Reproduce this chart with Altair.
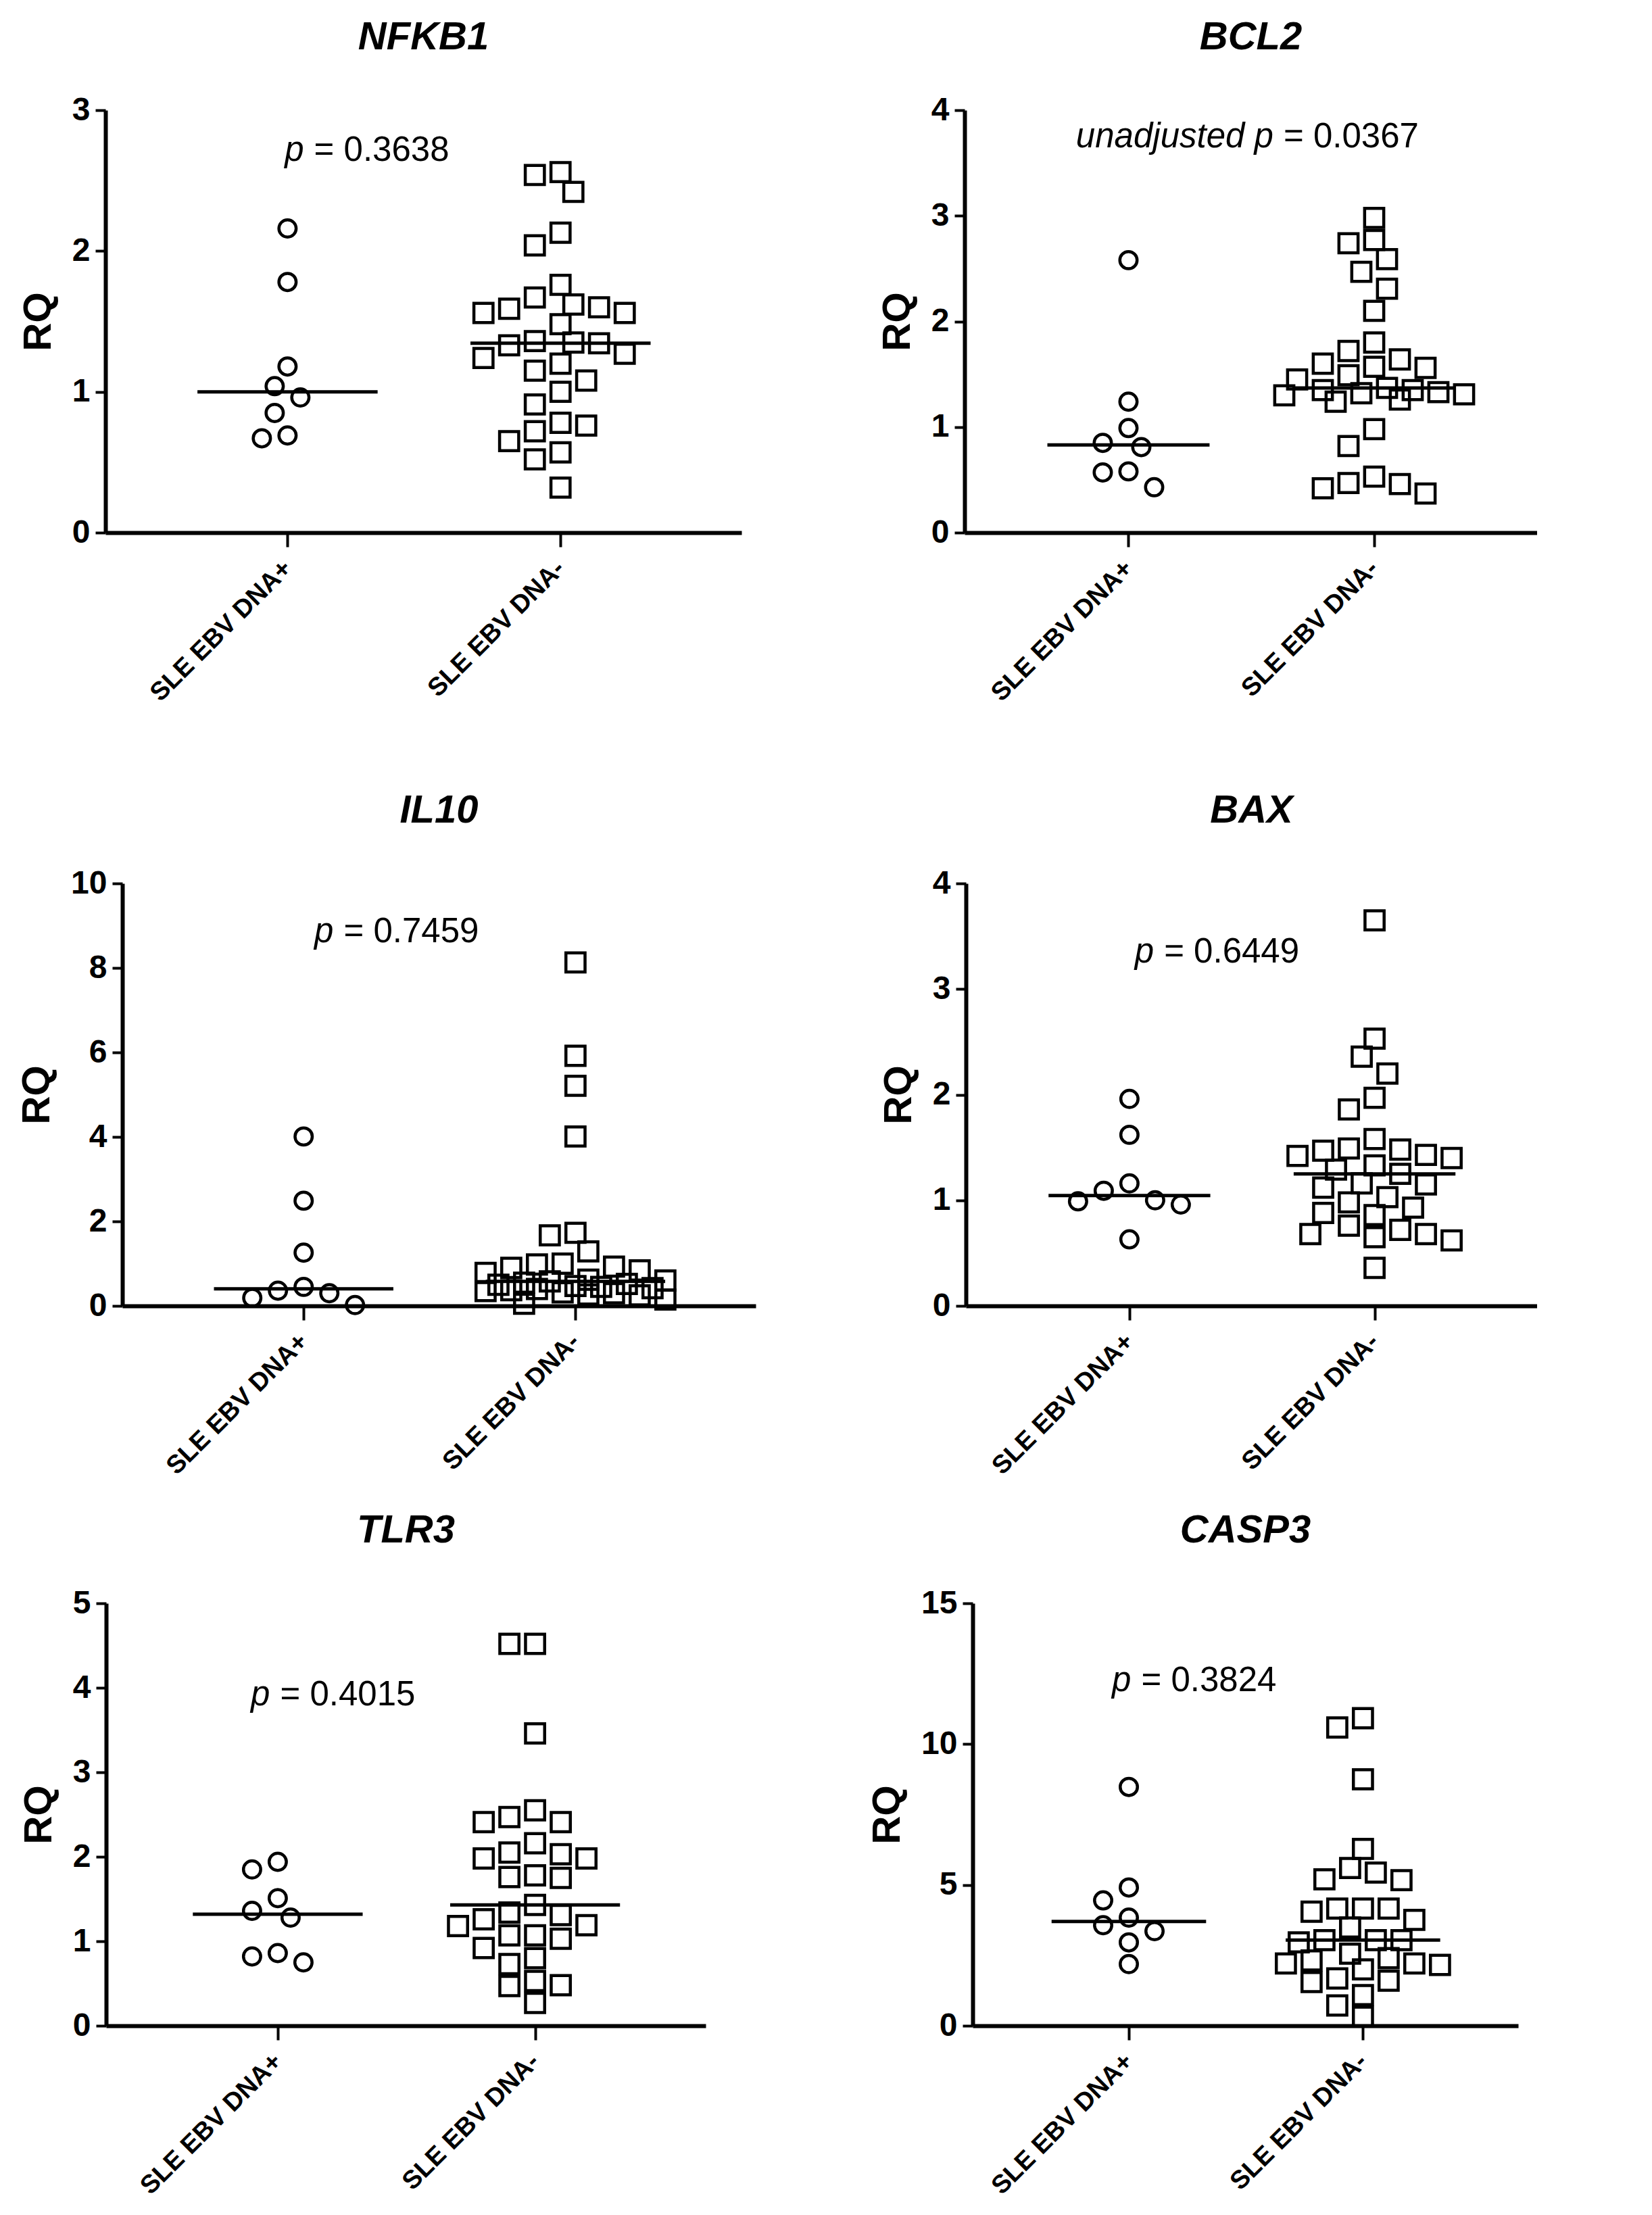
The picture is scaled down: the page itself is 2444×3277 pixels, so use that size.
import math

import altair as alt
import pandas as pd

FONT = "Liberation Sans"

# ---------------------------------------------------------------------------
# Data (RQ values)
# ---------------------------------------------------------------------------
groups = ["SLE EBV DNA+", "SLE EBV DNA-"]
genes = ["NFKB1", "BCL2", "IL10", "BAX", "TLR3", "CASP3"]

nfkb1_pos = [2.16, 1.78, 1.18, 1.04, 0.96, 0.85, 0.69, 0.67]
nfkb1_neg = [2.56, 2.54, 2.42, 2.13, 2.04, 1.76, 1.67, 1.62, 1.60, 1.59, 1.56,
             1.56, 1.48, 1.36, 1.35, 1.345, 1.33, 1.27, 1.24, 1.20, 1.15, 1.08,
             1.00, 0.91, 0.78, 0.76, 0.72, 0.65, 0.57, 0.52, 0.32]

bcl2_pos = [2.58, 1.24, 0.99, 0.85, 0.81, 0.58, 0.57, 0.43]
bcl2_neg = [2.98, 2.77, 2.74, 2.59, 2.47, 2.31, 2.10, 1.80, 1.72, 1.64, 1.60,
            1.57, 1.56, 1.49, 1.45, 1.37, 1.35, 1.35, 1.33, 1.32, 1.31, 1.30,
            1.26, 1.24, 0.98, 0.82, 0.53, 0.47, 0.46, 0.42, 0.37]

il10_pos = [4.01, 2.49, 1.26, 0.45, 0.36, 0.30, 0.19, 0.02]
il10_neg = [8.13, 5.92, 5.21, 4.01, 1.73, 1.67, 1.29, 1.00, 0.98, 0.93, 0.90,
            0.84, 0.78, 0.62, 0.60, 0.58, 0.55, 0.52, 0.50, 0.47, 0.45, 0.42,
            0.40, 0.37, 0.35, 0.32, 0.30, 0.27, 0.25, 0.15, 0.05]

bax_pos = [1.96, 1.62, 1.16, 1.09, 1.00, 0.99, 0.96, 0.63]
bax_neg = [3.65, 2.53, 2.36, 2.20, 1.97, 1.86, 1.58, 1.49, 1.48, 1.47, 1.43,
           1.42, 1.40, 1.33, 1.29, 1.25, 1.16, 1.15, 1.12, 1.03, 0.98, 0.93,
           0.88, 0.86, 0.76, 0.72, 0.68, 0.68, 0.65, 0.62, 0.36]

tlr3_pos = [1.94, 1.85, 1.51, 1.36, 1.28, 0.86, 0.82, 0.75]
tlr3_neg = [4.52, 4.52, 3.46, 2.55, 2.47, 2.41, 2.41, 2.16, 2.05, 2.03, 1.98,
            1.98, 1.78, 1.76, 1.75, 1.43, 1.34, 1.31, 1.26, 1.19, 1.18, 1.07,
            1.07, 1.03, 0.92, 0.80, 0.73, 0.53, 0.48, 0.47, 0.27]

casp3_pos = [8.48, 4.91, 4.45, 3.84, 3.57, 3.36, 2.96, 2.19]
casp3_neg = [10.92, 10.59, 8.75, 6.28, 5.60, 5.44, 5.20, 5.17, 4.16, 4.16, 4.16,
             4.05, 3.76, 3.49, 3.04, 3.04, 3.04, 2.96, 2.56, 2.40, 2.32, 2.21,
             2.21, 2.16, 2.00, 1.68, 1.60, 1.55, 1.09, 0.72, 0.32]

pos_values = [nfkb1_pos, bcl2_pos, il10_pos, bax_pos, tlr3_pos, casp3_pos]
neg_values = [nfkb1_neg, bcl2_neg, il10_neg, bax_neg, tlr3_neg, casp3_neg]

y_max = [3, 4, 10, 4, 5, 15]
y_step = [1, 1, 2, 1, 1, 5]

p_prefix = ["p", "unadjusted p", "p", "p", "p", "p"]
p_text = ["= 0.3638", "= 0.0367", "= 0.7459", "= 0.6449", "= 0.4015", "= 0.3824"]
p_x = [1.06, 1.59, 1.11, 1.10, 0.97, 1.01]
p_y = [2.64, 3.65, 8.61, 3.25, 3.79, 11.87]

# ---------------------------------------------------------------------------
# Layout
# ---------------------------------------------------------------------------
X_DOMAIN = [0.333, 2.663]
PLOT_H = 625
panel_w = [941, 847, 937, 845, 887, 807]
left_pad = [148, 173, 149]
mid_pad = [330, 311, 395]
top_pad = 155
row_gap = [519, 440]

SYMBOL_D = 32      # outer symbol size in px, used for the swarm layout
SWARM_STEP = 19    # horizontal step between swarm lanes in px
MAX_LANE = 7
MEDIAN_HALF = 0.33


def swarm(values, center, xpx, ypx):
    """Greedy beeswarm: put each point in the lane nearest the centre that
    does not collide with the points already placed."""
    placed = []
    xs = []
    lanes = [0] + [s * k for k in range(1, MAX_LANE + 1) for s in (-1, 1)]
    for v in values:
        y = v * ypx
        best_lane, best_d = 0, -1.0
        for k in lanes:
            x = k * SWARM_STEP
            d = min((math.hypot(x - px, y - py) for px, py in placed), default=1e9)
            if d >= SYMBOL_D:
                best_lane = k
                break
            if d > best_d:
                best_d, best_lane = d, k
        placed.append((best_lane * SWARM_STEP, y))
        xs.append(center + best_lane * SWARM_STEP / xpx)
    return xs


label_expr = f"datum.value == 1 ? '{groups[0]}' : '{groups[1]}'"


def x_enc():
    return alt.X("x:Q",
                 scale=alt.Scale(domain=X_DOMAIN, nice=False, zero=False),
                 axis=alt.Axis(values=[1, 2], labelExpr=label_expr, title=None,
                               labelAngle=-45, labelAlign="right",
                               labelBaseline="middle", labelFontSize=38,
                               labelPadding=26, tickSize=21, labelLimit=0,
                               labelOverlap=False, labelFlush=False,
                               labelBound=False))


def y_enc(i):
    return alt.Y("rq:Q",
                 scale=alt.Scale(domain=[0, y_max[i]], nice=False, zero=True),
                 axis=alt.Axis(values=list(range(0, y_max[i] + 1, y_step[i])),
                               title="RQ", titleFontSize=58, titlePadding=20,
                               labelFontSize=48, labelPadding=8, tickSize=15))


def panel(i):
    w = panel_w[i]
    xpx = w / (X_DOMAIN[1] - X_DOMAIN[0])
    ypx = PLOT_H / y_max[i]

    rows = []
    for g, vals in ((1, pos_values[i]), (2, neg_values[i])):
        for v, x in zip(vals, swarm(vals, g, xpx, ypx)):
            rows.append({"group": g, "x": x, "rq": v})
    df = pd.DataFrame(rows)

    med = df.groupby("group")["rq"].median().reset_index()
    med["x"] = med["group"] - MEDIAN_HALF
    med["x_end"] = med["group"] + MEDIAN_HALF

    circles = alt.Chart(df).transform_filter("datum.group == 1").mark_point(
        shape="circle", filled=False, size=650, strokeWidth=4.5,
        color="black", opacity=1
    ).encode(x=x_enc(), y=y_enc(i))

    squares = alt.Chart(df).transform_filter("datum.group == 2").mark_point(
        shape="square", filled=False, size=800, strokeWidth=4.5,
        color="black", opacity=1
    ).encode(x=x_enc(), y=y_enc(i))

    medians = alt.Chart(med).mark_rule(strokeWidth=5, color="black").encode(
        x=x_enc(), x2="x_end:Q", y=y_enc(i)
    )

    p_df = pd.DataFrame({"x": [p_x[i]], "rq": [p_y[i]]})
    p_italic = alt.Chart(p_df).mark_text(
        text=p_prefix[i], align="right", baseline="alphabetic",
        fontStyle="italic", fontSize=51, font=FONT, color="black"
    ).encode(x=x_enc(), y=y_enc(i))
    p_rest = alt.Chart(p_df).mark_text(
        text=p_text[i], align="left", baseline="alphabetic", dx=15,
        fontSize=51, font=FONT, color="black"
    ).encode(x=x_enc(), y=y_enc(i))

    return alt.layer(medians, circles, squares, p_italic, p_rest).properties(
        width=w,
        height=PLOT_H,
        title=alt.TitleParams(text=genes[i], font=FONT, fontSize=58,
                              fontWeight="bold", fontStyle="italic",
                              color="black", anchor="middle", frame="group",
                              baseline="alphabetic", offset=8),
    )


def spacer(w, h):
    return alt.Chart(pd.DataFrame({"s": [0]})).mark_rule(
        opacity=0, strokeWidth=0
    ).encode(x=alt.value(0), y=alt.value(0), y2=alt.value(0)).properties(
        width=w, height=h
    )


# each row: [left gap, panel, middle gap, panel]; with flush bounds a nested
# row adds no height of its own, so the vertical spacers include PLOT_H
rows = []
for r in range(3):
    rows.append(alt.hconcat(
        spacer(left_pad[r], 1), panel(2 * r), spacer(mid_pad[r], 1), panel(2 * r + 1),
        spacing=0, bounds="flush"
    ))

chart = alt.vconcat(
    spacer(1, top_pad), rows[0],
    spacer(1, PLOT_H + row_gap[0]), rows[1],
    spacer(1, PLOT_H + row_gap[1]), rows[2],
    spacing=0, bounds="flush"
).properties(
    padding=0, background="white"
).configure_view(
    strokeWidth=0
).configure_axis(
    domainColor="black", domainWidth=6, tickColor="black", tickWidth=4,
    labelColor="black", labelFont=FONT, labelFontWeight="bold",
    titleColor="black", titleFont=FONT, titleFontWeight="bold", grid=False
)

chart.save("out.html", embed_options={"renderer": "svg", "actions": False})
